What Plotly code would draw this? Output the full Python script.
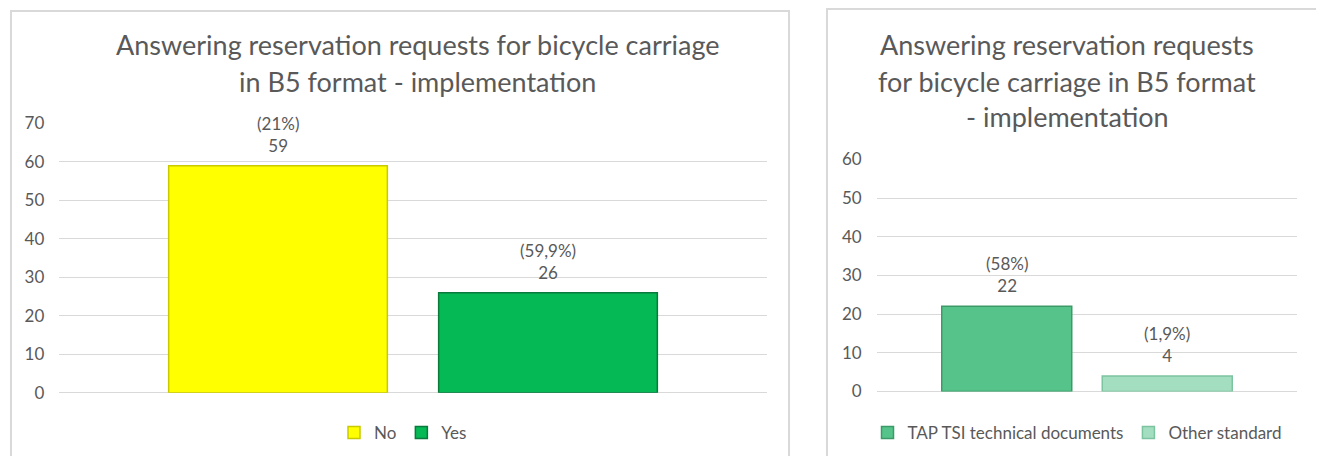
import plotly.graph_objects as go

# left chart
left_cats = ["No", "Yes"]
left_vals = [59, 26]
left_pcts = ["(21%)", "(59,9%)"]
left_colors = ["#FFFF00", "#05B954"]
left_edges = ["#C9C900", "#0A7A3C"]
left_title = ["Answering reservation requests for bicycle carriage",
              "in B5 format - implementation"]

# right chart
right_cats = ["TAP TSI technical documents", "Other standard"]
right_vals = [22, 4]
right_pcts = ["(58%)", "(1,9%)"]
right_colors = ["#55C38A", "#A3DEC0"]
right_edges = ["#3C9A68", "#7CC3A0"]
right_title = ["Answering reservation requests",
               "for bicycle carriage in B5 format",
               "- implementation"]

# the page body has an 8px margin, so the figure is a bit smaller than the window
OFF = 8
W, H = 1324 - OFF, 456 - OFF
FONT = "Lato, Carlito, Calibri, sans-serif"
GREY = "#595959"
GRID = "#D9D9D9"


def px(x):
    # window pixel -> paper x
    return (x - OFF) / W


def py(y):
    # window pixel -> paper y
    return 1 - (y - OFF) / H


fig = go.Figure()

for cat, val, col, edge in zip(left_cats, left_vals, left_colors, left_edges):
    fig.add_trace(go.Bar(
        x=[cat], y=[val], name=cat, width=0.81,
        marker=dict(color=col, line=dict(color=edge, width=1.5)),
        xaxis="x", yaxis="y", legend="legend", hoverinfo="x+y",
    ))

for cat, val, col, edge in zip(right_cats, right_vals, right_colors, right_edges):
    fig.add_trace(go.Bar(
        x=[cat], y=[val], name=cat, width=0.81,
        marker=dict(color=col, line=dict(color=edge, width=1.5)),
        xaxis="x2", yaxis="y2", legend="legend2", hoverinfo="x+y",
    ))

annotations = []
for cat, val, pct in zip(left_cats, left_vals, left_pcts):
    annotations.append(dict(x=cat, y=val, xref="x", yref="y", text=f"{pct}<br>{val}",
                            showarrow=False, yanchor="bottom", yshift=8,
                            font=dict(size=17, color=GREY, family=FONT)))
for cat, val, pct in zip(right_cats, right_vals, right_pcts):
    annotations.append(dict(x=cat, y=val, xref="x2", yref="y2", text=f"{pct}<br>{val}",
                            showarrow=False, yanchor="bottom", yshift=8,
                            font=dict(size=17, color=GREY, family=FONT)))

# titles, one annotation per line
for i, line in enumerate(left_title):
    annotations.append(dict(x=px(418), y=py(45 + 36 * i), xref="paper", yref="paper",
                            text=line, showarrow=False, xanchor="center", yanchor="middle",
                            font=dict(size=27, color=GREY, family=FONT)))
for i, line in enumerate(right_title):
    annotations.append(dict(x=px(1067), y=py(45 + 36 * i), xref="paper", yref="paper",
                            text=line, showarrow=False, xanchor="center", yanchor="middle",
                            font=dict(size=27, color=GREY, family=FONT)))

axis_x = dict(type="category", range=[-0.81, 1.81], showticklabels=False,
              showgrid=False, zeroline=False, showline=False, fixedrange=True)
axis_y = dict(dtick=10, showgrid=True, gridcolor=GRID, gridwidth=1, zeroline=True,
              zerolinecolor=GRID, zerolinewidth=1, showline=False, ticks="",
              ticklabelstandoff=14, automargin=False,
              tickfont=dict(size=17, color=GREY, family=FONT))

fig.update_layout(
    width=W, height=H,
    margin=dict(l=0, r=0, t=0, b=0),
    paper_bgcolor="white", plot_bgcolor="white",
    barmode="overlay",
    font=dict(family=FONT, color=GREY),
    xaxis=dict(axis_x, domain=[px(59.3), px(766.7)], anchor="y"),
    yaxis=dict(axis_y, domain=[py(392.7), py(123.3)], range=[0, 70], anchor="x"),
    xaxis2=dict(axis_x, domain=[px(876.7), px(1297.3)], anchor="y2"),
    yaxis2=dict(axis_y, domain=[py(391.5), py(159.3)], range=[0, 60], anchor="x2"),
    legend=dict(orientation="h", x=px(403), y=py(433), xanchor="center", yanchor="middle",
                font=dict(size=17, color=GREY, family=FONT), itemwidth=30,
                bgcolor="rgba(0,0,0,0)"),
    legend2=dict(orientation="h", x=px(1077), y=py(433), xanchor="center", yanchor="middle",
                 font=dict(size=17, color=GREY, family=FONT), itemwidth=30,
                 bgcolor="rgba(0,0,0,0)"),
    annotations=annotations,
    shapes=[
        dict(type="rect", xref="paper", yref="paper", x0=px(11), x1=px(789),
             y0=-0.1, y1=py(11), line=dict(color=GRID, width=2), layer="below"),
        dict(type="rect", xref="paper", yref="paper", x0=px(827), x1=px(1320.5),
             y0=-0.1, y1=py(9), line=dict(color=GRID, width=2), layer="below"),
    ],
)

fig.write_html("out.html")
